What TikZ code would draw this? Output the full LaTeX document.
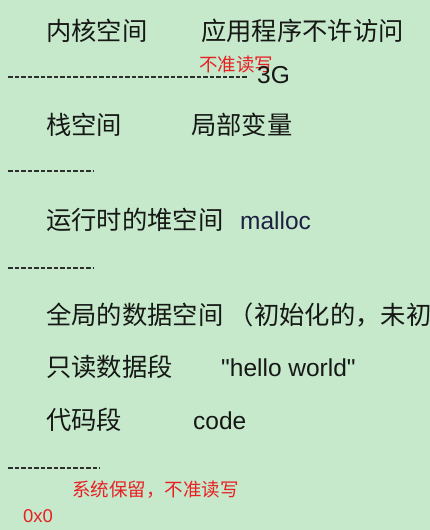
\documentclass[tikz,border=0pt]{standalone}
\usepackage{fontspec}
\setmainfont{Liberation Sans}
\newfontfamily\cjk{Noto Sans CJK SC}
\usepackage{tikz}
\usetikzlibrary{positioning}
\definecolor{PageGreen}{RGB}{198,232,203}
\definecolor{InkBlack}{RGB}{22,24,22}
\definecolor{NoteRed}{RGB}{232,32,36}
\definecolor{CodeNavy}{RGB}{30,32,66}
\tikzset{
  zone/.style={
    anchor=base west,
    inner sep=0pt,
    text=InkBlack,
    font=\cjk\fontsize{25.3}{28}\selectfont
  },
  latin/.style={
    anchor=base west,
    inner sep=0pt,
    text=InkBlack,
    font=\fontsize{24.5}{28}\selectfont
  },
  note/.style={
    anchor=base west,
    inner sep=0pt,
    text=NoteRed,
    font=\cjk\fontsize{18.5}{22}\selectfont
  },
  border/.style={draw=InkBlack!90,line width=2.2pt,dash pattern=on 4.5pt off 2pt}
}
\begin{document}
\begin{tikzpicture}[x=1pt,y=-1pt]
    \fill[PageGreen] (0,0) rectangle (430,530);
    \useasboundingbox (0,0) rectangle (430,530);
    \clip (0,0) rectangle (430,530);
    % kernel space
    \node[zone] (kernel) at (46,40) {内核空间};
    \node[zone] (kernelnote) at (201,40) {应用程序不许访问};
    \node[note] (kernelred) at (199,71) {不准读写};
    \coordinate (b1s) at (8,77);
    \coordinate (b1e) at (248,77);
    \draw[border] (b1s) -- (b1e);
    \node[latin] (three) at (257,83) {3G};
    % stack
    \node[zone] (stack) at (46,134) {栈空间};
    \node[zone] (stacknote) at (191,134) {局部变量};
    \coordinate (b2s) at (8,171);
    \coordinate (b2e) at (93,171);
    \draw[border] (b2s) -- (b2e);
    % heap
    \node[zone] (heap) at (46,229) {运行时的堆空间};
    \node[latin,text=CodeNavy] (malloc) at (240,229) {malloc};
    \coordinate (b3s) at (8,268);
    \coordinate (b3e) at (93,268);
    \draw[border] (b3s) -- (b3e);
    % data, rodata, text
    \node[zone] (data) at (46,324) {全局的数据空间 （初始化的，未初始化的）};
    \node[zone] (rodata) at (46,376) {只读数据段};
    \node[latin] (hello) at (221,376) {\textquotedbl hello world\textquotedbl};
    \node[zone] (text) at (46,429) {代码段};
    \node[latin] (code) at (193,429) {code};
    \coordinate (b4s) at (8,468);
    \coordinate (b4e) at (100,468);
    \draw[border] (b4s) -- (b4e);
    % reserved
    \node[note] (reserved) at (72,496) {系统保留，不准读写};
    \node[note,font=\fontsize{18.5}{22}\selectfont] (zero) at (23,522) {0x0};
\end{tikzpicture}
\end{document}
